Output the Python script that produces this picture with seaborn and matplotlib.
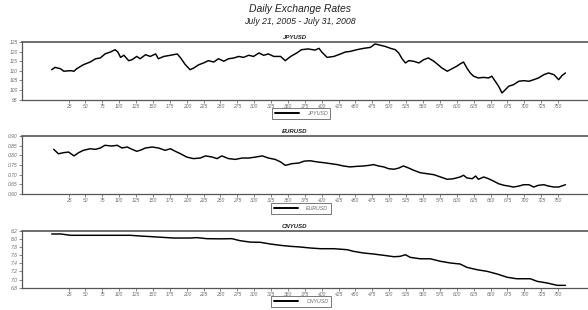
# Taux de change quotidiens, trois panneaux empilés (JPY, EUR, CNY contre USD)
# Les valeurs sont relevées à l'oeil sur le graphique de référence

import numpy as np
import matplotlib.pyplot as plt
import seaborn as sns


# Jour de bourse depuis le 21 juillet 2005
jpy_day = [0, 5, 13, 18, 28, 33, 37, 47, 57, 65, 72, 79, 87, 94, 98, 102, 107, 114, 119, 126,
           131, 139, 146, 154, 158, 166, 176, 186, 191, 198, 205, 210, 218, 225, 232, 240, 247,
           255, 262, 270, 277, 284, 292, 299, 307, 314, 321, 329, 339, 346, 354, 363, 370, 380,
           390, 396, 400, 408, 418, 428, 435, 442, 452, 462, 472, 479, 487, 494, 502, 509, 514,
           519, 524, 529, 536, 544, 551, 558, 566, 571, 578, 586, 593, 600, 605, 610, 615, 620,
           625, 632, 640, 647, 652, 657, 662, 667, 672, 677, 684, 692, 699, 707, 714, 721, 729,
           736, 744, 751, 756, 761]
jpy_rate = [110.6, 111.8, 111.1, 109.8, 110.1, 109.8, 111.1, 113.2, 114.6, 116.3, 116.7, 118.8,
            119.8, 121.0, 119.8, 117.0, 118.1, 115.3, 115.8, 117.5, 116.3, 118.4, 117.5, 118.8,
            116.3, 117.5, 118.1, 118.8, 116.7, 113.2, 110.6, 111.4, 113.2, 114.1, 115.3, 114.6,
            116.3, 115.0, 116.3, 116.7, 117.5, 117.0, 118.1, 117.5, 119.3, 118.1, 118.8, 117.5,
            117.5, 115.3, 117.5, 119.3, 121.0, 121.4, 120.8, 121.7, 119.8, 117.0, 117.5, 118.8,
            119.8, 120.1, 121.0, 121.7, 122.2, 124.0, 123.3, 122.7, 121.7, 121.0, 119.3, 116.3,
            114.1, 115.3, 115.0, 114.1, 115.8, 116.7, 115.0, 113.6, 111.5, 109.8, 111.1, 112.4,
            113.6, 114.6, 111.5, 108.9, 107.2, 106.3, 106.6, 106.3, 107.2, 104.6, 102.0, 98.5,
            100.2, 102.0, 102.8, 104.6, 104.9, 104.6, 105.4, 106.3, 108.0, 108.9, 108.0, 105.4,
            107.6, 108.9]

eur_day = [3, 10, 18, 25, 33, 40, 47, 57, 65, 72, 79, 89, 97, 104, 112, 119, 126, 131, 139, 149,
           158, 168, 176, 183, 191, 200, 210, 220, 228, 238, 245, 252, 262, 272, 282, 292, 302,
           312, 321, 331, 339, 346, 356, 366, 374, 383, 393, 403, 413, 423, 432, 442, 452, 462,
           470, 477, 484, 492, 499, 507, 514, 521, 529, 536, 546, 556, 566, 576, 586, 595, 605,
           610, 615, 623, 628, 632, 640, 647, 655, 662, 670, 677, 684, 692, 699, 707, 714, 721,
           729, 736, 744, 751, 761]
eur_rate = [0.831, 0.808, 0.814, 0.817, 0.797, 0.814, 0.826, 0.834, 0.831, 0.838, 0.852, 0.848,
            0.852, 0.838, 0.843, 0.831, 0.821, 0.826, 0.838, 0.843, 0.838, 0.826, 0.834, 0.821,
            0.808, 0.791, 0.783, 0.786, 0.797, 0.791, 0.783, 0.797, 0.783, 0.779, 0.786, 0.786,
            0.791, 0.797, 0.786, 0.779, 0.766, 0.748, 0.757, 0.760, 0.770, 0.772, 0.766, 0.762,
            0.757, 0.752, 0.745, 0.740, 0.743, 0.745, 0.748, 0.752, 0.745, 0.740, 0.731, 0.728,
            0.734, 0.745, 0.734, 0.723, 0.710, 0.705, 0.700, 0.688, 0.676, 0.679, 0.688, 0.697,
            0.683, 0.679, 0.693, 0.676, 0.688, 0.679, 0.666, 0.653, 0.645, 0.641, 0.636, 0.641,
            0.648, 0.648, 0.636, 0.645, 0.648, 0.641, 0.636, 0.636, 0.648]

cny_day = [0, 13, 28, 57, 87, 116, 131, 156, 181, 205, 215, 230, 250, 267, 279, 294, 309, 324,
           339, 354, 368, 383, 398, 418, 438, 447, 462, 477, 492, 507, 516, 524, 531, 546, 561,
           576, 591, 605, 615, 630, 645, 660, 675, 689, 709, 719, 734, 749, 761]
cny_rate = [8.119, 8.12, 8.087, 8.087, 8.087, 8.087, 8.07, 8.045, 8.02, 8.02, 8.03, 8.004, 8.0,
            8.004, 7.955, 7.92, 7.915, 7.873, 7.84, 7.816, 7.80, 7.775, 7.758, 7.758, 7.733,
            7.693, 7.652, 7.627, 7.595, 7.561, 7.57, 7.61, 7.546, 7.51, 7.51, 7.448, 7.406,
            7.382, 7.30, 7.242, 7.202, 7.136, 7.055, 7.02, 7.02, 6.957, 6.915, 6.858, 6.858]

x_ticks = list(range(25, 751, 25))

jpy_ticks = [95, 100, 105, 110, 115, 120, 125]
eur_ticks = [0.60, 0.65, 0.70, 0.75, 0.80, 0.85, 0.90]
cny_ticks = [6.8, 7.0, 7.2, 7.4, 7.6, 7.8, 8.0, 8.2]

sns.set_theme(style="ticks")
plt.rcParams["font.family"] = ["Liberation Sans", "DejaVu Sans"]

GRIS_AXE = "#555555"
GRIS_TXT = "#6b6b6b"

fig = plt.figure(figsize=(5.88, 3.10), dpi=100)

fig.text(0.51, 0.972, "Daily Exchange Rates", ha="center", va="center",
         fontsize=7.5, fontstyle="italic", color="#222222")
fig.text(0.51, 0.931, "July 21, 2005 - July 31, 2008", ha="center", va="center",
         fontsize=6.3, fontstyle="italic", color="#222222")

# (nom, jours, valeurs, ticks y, format, position [gauche, bas, largeur, hauteur])
panneaux = [
    ("JPYUSD", jpy_day, jpy_rate, jpy_ticks, "{:.0f}",  [0.0374, 0.6784, 0.969, 0.1861]),
    ("EURUSD", eur_day, eur_rate, eur_ticks, "{:.2f}", [0.0374, 0.3742, 0.969, 0.1871]),
    ("CNYUSD", cny_day, cny_rate, cny_ticks, "{:.1f}",  [0.0374, 0.0719, 0.969, 0.1839]),
]

for nom, jours, taux, yticks, fmt, pos in panneaux:
    ax = fig.add_axes(pos)
    sns.lineplot(x=jours, y=taux, ax=ax, color="black", linewidth=1.05, label=nom, legend=False)

    ax.set_xlim(-44, 800)
    ax.set_ylim(yticks[0], yticks[-1])
    ax.set_xticks(x_ticks)
    ax.set_xticklabels([str(t) for t in x_ticks])
    ax.set_yticks(yticks)
    ax.set_yticklabels([fmt.format(t) for t in yticks])
    ax.tick_params(axis="both", labelsize=3.6, colors=GRIS_AXE, labelcolor=GRIS_TXT,
                   length=2, width=0.5, pad=1)
    for lbl in ax.get_xticklabels() + ax.get_yticklabels():
        lbl.set_fontstyle("italic")

    for cote in ["top", "bottom", "left"]:
        ax.spines[cote].set_color(GRIS_AXE)
        ax.spines[cote].set_linewidth(0.9)
    ax.spines["top"].set_linewidth(1.2)
    ax.spines["right"].set_visible(False)

    ax.set_xlabel("")
    ax.set_ylabel("")
    ax.set_title(nom, x=0.479, pad=2, fontsize=4.3, fontstyle="italic",
                 fontweight="bold", color="#222222")

    leg = ax.legend(loc="upper center", bbox_to_anchor=(0.49, -0.15), fontsize=3.8,
                    frameon=True, fancybox=False, handlelength=4.5, borderpad=0.55,
                    handletextpad=1.6, borderaxespad=0)
    leg.get_frame().set_edgecolor(GRIS_AXE)
    leg.get_frame().set_linewidth(0.7)
    for ligne in leg.get_lines():
        ligne.set_linewidth(1.4)
    for txt in leg.get_texts():
        txt.set_fontstyle("italic")
        txt.set_color(GRIS_TXT)

fig.savefig("out.png", dpi=100)
